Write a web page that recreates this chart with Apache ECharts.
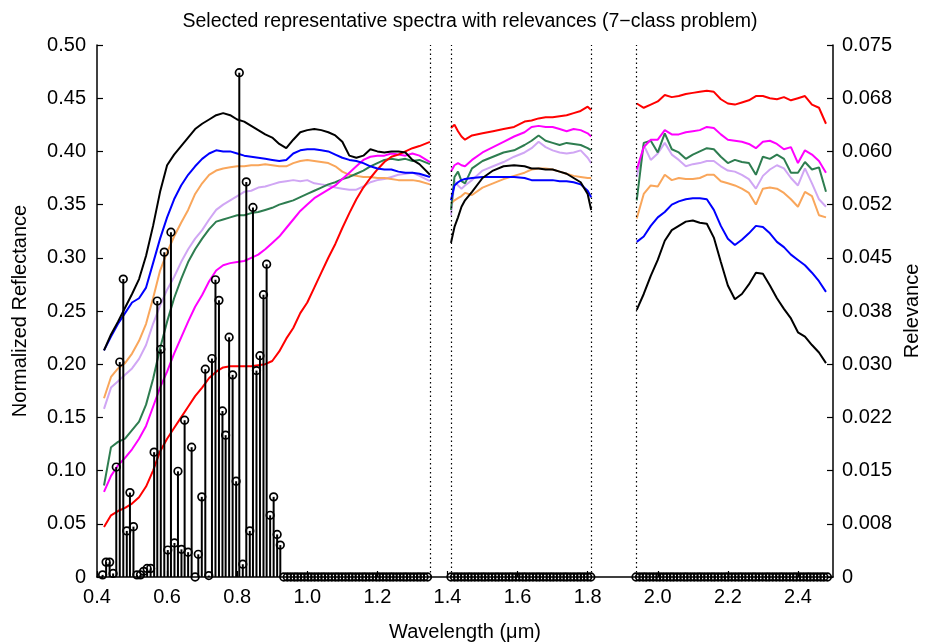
<!DOCTYPE html>
<html>
<head>
<meta charset="utf-8">
<title>Selected representative spectra with relevances</title>
<script src="https://cdn.jsdelivr.net/npm/echarts@6/dist/echarts.min.js"></script>
<style>
  html, body { margin: 0; padding: 0; background: #fff; }
  #chart { width: 928px; height: 644px; }
</style>
</head>
<body>
<div id="chart"></div>
<script>
// tick labels (MATLAB style)
const xTickLabels = ['0.4', '0.6', '0.8', '1.0', '1.2', '1.4', '1.6', '1.8', '2.0', '2.2', '2.4'];
const reflTickLabels = ['0', '0.05', '0.10', '0.15', '0.20', '0.25', '0.30', '0.35', '0.40', '0.45', '0.50'];
const relTickLabels = ['0', '0.008', '0.015', '0.022', '0.030', '0.038', '0.045', '0.052', '0.060', '0.068', '0.075'];

// water absorption gaps (dotted lines)
const gapEdges = [1.351, 1.41, 1.809, 1.938];

// wavelengths of the spectrum samples, one array per segment
const wlVis = [0.42, 0.44, 0.46, 0.48, 0.50, 0.52, 0.54, 0.56, 0.58, 0.60,
  0.62, 0.64, 0.66, 0.68, 0.70, 0.72, 0.74, 0.76, 0.78, 0.80,
  0.82, 0.84, 0.86, 0.88, 0.90, 0.92, 0.94, 0.96, 0.98, 1.00,
  1.02, 1.04, 1.06, 1.08, 1.10, 1.12, 1.14, 1.16, 1.18, 1.20,
  1.22, 1.24, 1.26, 1.28, 1.30, 1.32, 1.35];
const wlMid = [1.41, 1.42, 1.43, 1.44, 1.45, 1.47, 1.50, 1.53, 1.56, 1.59, 1.62,
  1.64, 1.66, 1.68, 1.70, 1.72, 1.74, 1.76, 1.78, 1.80, 1.81];
const wlSwir = [1.94, 1.96, 1.98, 2.00, 2.02, 2.04, 2.06, 2.08, 2.10, 2.12,
  2.14, 2.16, 2.18, 2.20, 2.22, 2.24, 2.26, 2.28, 2.30, 2.32,
  2.34, 2.36, 2.38, 2.40, 2.42, 2.44, 2.46, 2.48];

// normalized reflectance of the 7 class spectra
const blackVis = [0.213, 0.228, 0.240, 0.253, 0.266, 0.280, 0.302, 0.330, 0.362, 0.387,
  0.397, 0.405, 0.413, 0.421, 0.426, 0.430, 0.434, 0.436, 0.434, 0.430,
  0.428, 0.424, 0.420, 0.416, 0.413, 0.407, 0.403, 0.411, 0.418, 0.420,
  0.421, 0.420, 0.418, 0.415, 0.409, 0.396, 0.394, 0.396, 0.402, 0.400,
  0.399, 0.400, 0.400, 0.399, 0.392, 0.388, 0.378];
const blackMid = [0.314, 0.329, 0.338, 0.348, 0.354, 0.362, 0.375, 0.382, 0.386, 0.387, 0.386,
  0.384, 0.384, 0.383, 0.383, 0.381, 0.379, 0.375, 0.371, 0.360, 0.345];
const blackSwir = [0.251, 0.266, 0.283, 0.298, 0.316, 0.326, 0.330, 0.334, 0.335, 0.333,
  0.332, 0.319, 0.296, 0.274, 0.261, 0.266, 0.275, 0.286, 0.285, 0.274,
  0.262, 0.252, 0.243, 0.230, 0.226, 0.218, 0.211, 0.201];

const blueVis = [0.213, 0.226, 0.238, 0.248, 0.258, 0.262, 0.272, 0.295, 0.318, 0.338,
  0.355, 0.368, 0.378, 0.386, 0.393, 0.398, 0.401, 0.400, 0.400, 0.398,
  0.396, 0.395, 0.394, 0.393, 0.392, 0.391, 0.392, 0.398, 0.401, 0.402,
  0.402, 0.401, 0.400, 0.397, 0.394, 0.392, 0.391, 0.389, 0.386, 0.384,
  0.383, 0.383, 0.381, 0.380, 0.380, 0.379, 0.376];
const blueMid = [0.354, 0.368, 0.371, 0.373, 0.374, 0.375, 0.376, 0.376, 0.376, 0.376, 0.375,
  0.373, 0.373, 0.373, 0.373, 0.372, 0.372, 0.371, 0.369, 0.363, 0.357];
const blueSwir = [0.315, 0.320, 0.330, 0.338, 0.343, 0.350, 0.353, 0.355, 0.356, 0.356,
  0.355, 0.345, 0.330, 0.318, 0.312, 0.317, 0.323, 0.330, 0.329, 0.323,
  0.315, 0.310, 0.303, 0.298, 0.293, 0.286, 0.278, 0.268];

const orangeVis = [0.168, 0.188, 0.196, 0.201, 0.210, 0.222, 0.238, 0.262, 0.288, 0.305,
  0.320, 0.333, 0.345, 0.360, 0.370, 0.378, 0.382, 0.384, 0.385, 0.386,
  0.386, 0.387, 0.387, 0.388, 0.387, 0.386, 0.386, 0.389, 0.391, 0.392,
  0.391, 0.390, 0.389, 0.386, 0.381, 0.378, 0.377, 0.376, 0.376, 0.375,
  0.375, 0.374, 0.373, 0.373, 0.373, 0.372, 0.369];
const orangeMid = [0.351, 0.354, 0.356, 0.358, 0.361, 0.359, 0.366, 0.370, 0.374, 0.377, 0.380,
  0.383, 0.384, 0.384, 0.383, 0.381, 0.379, 0.377, 0.376, 0.375, 0.375];
const orangeSwir = [0.337, 0.360, 0.368, 0.367, 0.378, 0.373, 0.375, 0.374, 0.374, 0.375,
  0.378, 0.378, 0.372, 0.370, 0.368, 0.365, 0.361, 0.350, 0.365, 0.366,
  0.365, 0.361, 0.355, 0.348, 0.362, 0.358, 0.340, 0.338];

const lavenderVis = [0.158, 0.178, 0.184, 0.190, 0.196, 0.205, 0.218, 0.238, 0.255, 0.270,
  0.282, 0.296, 0.308, 0.318, 0.326, 0.336, 0.345, 0.350, 0.354, 0.358,
  0.362, 0.363, 0.366, 0.367, 0.369, 0.371, 0.372, 0.373, 0.372, 0.373,
  0.370, 0.369, 0.368, 0.366, 0.365, 0.364, 0.364, 0.367, 0.371, 0.373,
  0.374, 0.376, 0.378, 0.379, 0.380, 0.377, 0.372];
const lavenderMid = [0.340, 0.372, 0.368, 0.365, 0.368, 0.373, 0.382, 0.386, 0.390, 0.395, 0.399,
  0.403, 0.409, 0.404, 0.401, 0.399, 0.398, 0.399, 0.401, 0.394, 0.389];
const lavenderSwir = [0.376, 0.406, 0.392, 0.398, 0.408, 0.397, 0.392, 0.386, 0.388, 0.389,
  0.391, 0.391, 0.386, 0.382, 0.381, 0.378, 0.374, 0.365, 0.377, 0.383,
  0.387, 0.384, 0.375, 0.368, 0.384, 0.370, 0.355, 0.348];

const greenVis = [0.086, 0.122, 0.127, 0.130, 0.138, 0.146, 0.162, 0.186, 0.215, 0.240,
  0.262, 0.280, 0.296, 0.308, 0.318, 0.327, 0.334, 0.336, 0.338, 0.340,
  0.340, 0.342, 0.343, 0.345, 0.347, 0.350, 0.352, 0.354, 0.357, 0.360,
  0.363, 0.366, 0.369, 0.371, 0.374, 0.376, 0.379, 0.382, 0.386, 0.389,
  0.392, 0.393, 0.392, 0.393, 0.391, 0.392, 0.388];
const greenMid = [0.345, 0.376, 0.381, 0.372, 0.370, 0.384, 0.391, 0.395, 0.399, 0.401, 0.406,
  0.410, 0.415, 0.410, 0.408, 0.406, 0.408, 0.407, 0.406, 0.403, 0.401];
const greenSwir = [0.354, 0.408, 0.410, 0.399, 0.417, 0.402, 0.399, 0.393, 0.397, 0.400,
  0.403, 0.402, 0.395, 0.389, 0.392, 0.390, 0.389, 0.378, 0.395, 0.393,
  0.397, 0.393, 0.380, 0.380, 0.390, 0.383, 0.385, 0.362];

const magentaVis = [0.080, 0.095, 0.105, 0.112, 0.120, 0.130, 0.142, 0.160, 0.178, 0.193,
  0.210, 0.225, 0.240, 0.254, 0.265, 0.278, 0.288, 0.293, 0.295, 0.296,
  0.297, 0.300, 0.303, 0.308, 0.314, 0.320, 0.328, 0.336, 0.344, 0.350,
  0.356, 0.360, 0.364, 0.368, 0.374, 0.380, 0.386, 0.392, 0.395, 0.396,
  0.396, 0.398, 0.397, 0.396, 0.398, 0.396, 0.390];
const magentaMid = [0.381, 0.387, 0.389, 0.387, 0.386, 0.392, 0.399, 0.404, 0.409, 0.414, 0.418,
  0.423, 0.424, 0.423, 0.423, 0.421, 0.419, 0.421, 0.420, 0.417, 0.414];
const magentaSwir = [0.383, 0.404, 0.411, 0.411, 0.420, 0.416, 0.416, 0.418, 0.419, 0.420,
  0.423, 0.422, 0.416, 0.411, 0.410, 0.409, 0.407, 0.403, 0.409, 0.410,
  0.407, 0.402, 0.404, 0.389, 0.401, 0.397, 0.391, 0.380];

const redVis = [0.047, 0.058, 0.062, 0.065, 0.069, 0.075, 0.085, 0.100, 0.118, 0.130,
  0.140, 0.150, 0.160, 0.170, 0.178, 0.187, 0.193, 0.197, 0.198, 0.198,
  0.198, 0.198, 0.199, 0.200, 0.203, 0.212, 0.224, 0.234, 0.248, 0.258,
  0.272, 0.286, 0.300, 0.313, 0.328, 0.342, 0.355, 0.366, 0.375, 0.383,
  0.390, 0.395, 0.397, 0.400, 0.403, 0.405, 0.409];
const redMid = [0.422, 0.425, 0.419, 0.414, 0.411, 0.415, 0.417, 0.419, 0.421, 0.423, 0.428,
  0.429, 0.431, 0.432, 0.432, 0.433, 0.434, 0.436, 0.438, 0.442, 0.439];
const redSwir = [0.445, 0.441, 0.444, 0.447, 0.453, 0.451, 0.452, 0.454, 0.455, 0.456,
  0.457, 0.456, 0.449, 0.445, 0.444, 0.446, 0.448, 0.452, 0.452, 0.450,
  0.449, 0.451, 0.448, 0.450, 0.452, 0.444, 0.441, 0.426];

// band relevances (stems), visible / near infrared bands
const relWl = [0.416, 0.426, 0.436, 0.446, 0.455, 0.465, 0.475, 0.485, 0.494, 0.504,
  0.514, 0.524, 0.533, 0.543, 0.553, 0.563, 0.572, 0.582, 0.592, 0.602,
  0.611, 0.621, 0.631, 0.641, 0.650, 0.660, 0.670, 0.680, 0.689, 0.699,
  0.709, 0.719, 0.728, 0.738, 0.748, 0.758, 0.767, 0.777, 0.787, 0.797,
  0.806, 0.816, 0.826, 0.836, 0.845, 0.855, 0.865, 0.875, 0.884, 0.894,
  0.904, 0.914, 0.923];
const relValues = [0.0003, 0.0021, 0.0021, 0.0005, 0.0155, 0.0303, 0.0420, 0.0065, 0.0119, 0.0071,
  0.0003, 0.0003, 0.0008, 0.0012, 0.0012, 0.0176, 0.0389, 0.0321, 0.0458, 0.0038,
  0.0486, 0.0048, 0.0149, 0.0039, 0.0221, 0.0035, 0.0183, 0.0000, 0.0032, 0.0113,
  0.0293, 0.0002, 0.0308, 0.0419, 0.0390, 0.0234, 0.0200, 0.0338, 0.0285, 0.0135,
  0.0711, 0.0018, 0.0557, 0.0065, 0.0521, 0.0291, 0.0312, 0.0398, 0.0441, 0.0087,
  0.0113, 0.0060, 0.0045];
// bands with zero relevance
const zeroWlA = [0.933, 0.943, 0.953, 0.963, 0.972, 0.982, 0.992, 1.002, 1.011, 1.021,
  1.031, 1.041, 1.050, 1.060, 1.070, 1.080, 1.089, 1.099, 1.109, 1.119,
  1.128, 1.138, 1.148, 1.158, 1.167, 1.177, 1.187, 1.197, 1.206, 1.216,
  1.226, 1.236, 1.245, 1.255, 1.265, 1.275, 1.284, 1.294, 1.304, 1.314,
  1.323, 1.333, 1.343];
const zeroWlB = [1.410, 1.420, 1.429, 1.439, 1.449, 1.459, 1.468, 1.478, 1.488, 1.498,
  1.507, 1.517, 1.527, 1.537, 1.546, 1.556, 1.566, 1.576, 1.585, 1.595,
  1.605, 1.615, 1.624, 1.634, 1.644, 1.654, 1.663, 1.673, 1.683, 1.693,
  1.702, 1.712, 1.722, 1.732, 1.741, 1.751, 1.761, 1.771, 1.780, 1.790,
  1.800, 1.809];
const zeroWlC = [1.938, 1.948, 1.958, 1.967, 1.977, 1.987, 1.997, 2.006, 2.016, 2.026,
  2.036, 2.045, 2.055, 2.065, 2.075, 2.084, 2.094, 2.104, 2.114, 2.123,
  2.133, 2.143, 2.153, 2.162, 2.172, 2.182, 2.192, 2.201, 2.211, 2.221,
  2.231, 2.240, 2.250, 2.260, 2.270, 2.279, 2.289, 2.299, 2.309, 2.318,
  2.328, 2.338, 2.348, 2.357, 2.367, 2.377, 2.387, 2.396, 2.406, 2.416,
  2.426, 2.435, 2.445, 2.455, 2.465, 2.474, 2.484];

const font = '"Liberation Sans", Arial, sans-serif';

// put the three segments into one line, broken by empty points in the gaps
function spectrum(vis, mid, swir) {
  const pts = [];
  wlVis.forEach((w, i) => pts.push([w, vis[i]]));
  pts.push([1.38, null]);
  wlMid.forEach((w, i) => pts.push([w, mid[i]]));
  pts.push([1.87, null]);
  wlSwir.forEach((w, i) => pts.push([w, swir[i]]));
  return pts;
}

const stemData = relWl.map((w, i) => [w, relValues[i]])
  .concat(zeroWlA.concat(zeroWlB, zeroWlC).map(w => [w, 0]));

const lines = [
  { name: 'lavender', color: '#d0a6f4', d: spectrum(lavenderVis, lavenderMid, lavenderSwir) },
  { name: 'orange', color: '#f9a65b', d: spectrum(orangeVis, orangeMid, orangeSwir) },
  { name: 'green', color: '#2e7d50', d: spectrum(greenVis, greenMid, greenSwir) },
  { name: 'magenta', color: '#ff00ff', d: spectrum(magentaVis, magentaMid, magentaSwir) },
  { name: 'red', color: '#ff0000', d: spectrum(redVis, redMid, redSwir) },
  { name: 'blue', color: '#0000ff', d: spectrum(blueVis, blueMid, blueSwir) },
  { name: 'black', color: '#000000', d: spectrum(blackVis, blackMid, blackSwir) }
];

const series = lines.map(l => ({
  name: l.name,
  type: 'line',
  data: l.d,
  showSymbol: false,
  connectNulls: false,
  lineStyle: { color: l.color, width: 2 },
  itemStyle: { color: l.color },
  z: 3
}));

series.push({
  name: 'relevance',
  type: 'custom',
  yAxisIndex: 1,
  data: stemData,
  encode: { x: 0, y: 1 },
  z: 4,
  renderItem(params, api) {
    const top = api.coord([api.value(0), api.value(1)]);
    const base = api.coord([api.value(0), 0]);
    return {
      type: 'group',
      children: [
        { type: 'line', shape: { x1: base[0], y1: base[1], x2: top[0], y2: top[1] },
          style: { stroke: '#000', lineWidth: 2 } },
        { type: 'circle', shape: { cx: top[0], cy: top[1], r: 3.8 },
          style: { fill: 'none', stroke: '#000', lineWidth: 1.7 } }
      ]
    };
  },
  markLine: {
    silent: true,
    symbol: ['none', 'none'],
    label: { show: false },
    lineStyle: { color: '#000', type: [1.5, 3], width: 1.2 },
    data: gapEdges.map(x => ({ xAxis: x }))
  }
});

const chart = echarts.init(document.getElementById('chart'), null, { renderer: 'canvas' });
chart.setOption({
  animation: false,
  backgroundColor: '#fff',
  textStyle: { fontFamily: font },
  title: {
    text: 'Selected representative spectra with relevances (7\u2212class problem)',
    left: 465,
    textAlign: 'center',
    top: 7,
    textStyle: { fontFamily: font, fontSize: 19.5, fontWeight: 'normal', color: '#000' }
  },
  grid: { left: 97, right: 95, top: 45, bottom: 67, containLabel: false, outerBoundsMode: 'none' },
  xAxis: {
    type: 'value',
    min: 0.4,
    max: 2.5,
    interval: 0.2,
    name: 'Wavelength (\u03bcm)',
    nameLocation: 'middle',
    nameGap: 45,
    nameTextStyle: { fontFamily: font, fontSize: 20, color: '#000' },
    axisLine: { lineStyle: { color: '#000', width: 1.5 } },
    axisTick: { inside: true, length: 6, lineStyle: { color: '#000', width: 1.2 } },
    axisLabel: {
      fontFamily: font, fontSize: 20, color: '#000', margin: 10,
      showMaxLabel: false,
      formatter: v => { const s = v.toFixed(1); return xTickLabels.includes(s) ? s : ''; }
    },
    splitLine: { show: false }
  },
  yAxis: [
    {
      type: 'value',
      min: 0,
      max: 0.5,
      interval: 0.05,
      name: 'Normalized Reflectance',
      nameLocation: 'middle',
      nameGap: 67,
      nameTextStyle: { fontFamily: font, fontSize: 20, color: '#000' },
      axisLine: { show: true, lineStyle: { color: '#000', width: 1.5 } },
      axisTick: { show: true, inside: true, length: 6, lineStyle: { color: '#000', width: 1.2 } },
      axisLabel: {
        fontFamily: font, fontSize: 20, color: '#000', margin: 11,
        formatter: (v, i) => reflTickLabels[i] !== undefined ? reflTickLabels[i] : ''
      },
      splitLine: { show: false }
    },
    {
      type: 'value',
      position: 'right',
      min: 0,
      max: 0.075,
      interval: 0.0075,
      name: 'Relevance',
      nameLocation: 'middle',
      nameGap: 69,
      nameRotate: 90,
      nameTextStyle: { fontFamily: font, fontSize: 20, color: '#000' },
      axisLine: { show: true, lineStyle: { color: '#000', width: 1.5 } },
      axisTick: { show: true, inside: true, length: 6, lineStyle: { color: '#000', width: 1.2 } },
      axisLabel: {
        fontFamily: font, fontSize: 20, color: '#000', margin: 9,
        formatter: (v, i) => relTickLabels[i] !== undefined ? relTickLabels[i] : ''
      },
      splitLine: { show: false }
    }
  ],
  series: series
});
</script>
</body>
</html>
